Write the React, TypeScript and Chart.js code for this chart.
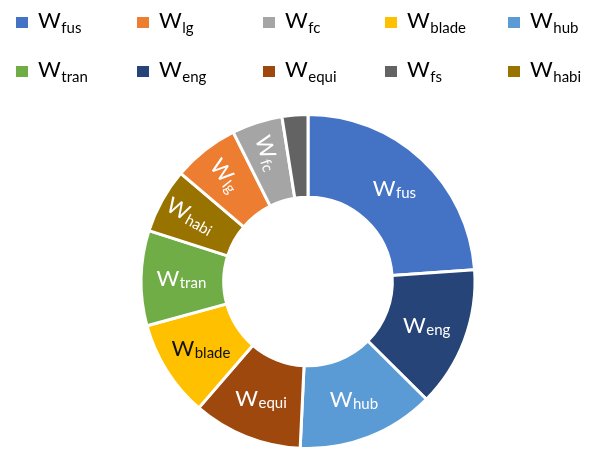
import React, { useEffect, useRef } from "react";
import { Chart, registerables } from "chart.js";

Chart.register(...registerables);

// Slices in clockwise order starting at 12 o'clock (subscripts of "W")
const categories = ["fus", "eng", "hub", "equi", "blade", "tran", "habi", "lg", "fc", "fs"];
const shares = [23.9, 13.6, 13.3, 10.6, 9.4, 9.2, 6.3, 6.4, 4.9, 2.5];
const sliceColors = ["#4472C4", "#264478", "#5B9BD5", "#9E480E", "#FFC000", "#70AD47", "#997300", "#ED7D31", "#A5A5A5", "#636363"];
const darkLabelSlices = ["blade"];
const rotatedLabelSlices = ["habi", "lg", "fc"];
const unlabeledSlices = ["fs"];

// Legend order (two rows of five)
const legendRow1 = ["fus", "lg", "fc", "blade", "hub"];
const legendRow2 = ["tran", "eng", "equi", "fs", "habi"];

const FONT = "Lato, 'Open Sans', sans-serif";

function drawSubText(
  ctx: CanvasRenderingContext2D,
  x: number,
  y: number,
  sub: string,
  mainSize: number,
  subSize: number,
  subDrop: number,
  color: string,
  center: boolean
) {
  ctx.font = `${mainSize}px ${FONT}`;
  const wW = ctx.measureText("W").width;
  ctx.font = `${subSize}px ${FONT}`;
  const sW = ctx.measureText(sub).width;
  const gap = 0.5;
  const total = wW + gap + sW;
  const x0 = center ? x - total / 2 : x;
  ctx.fillStyle = color;
  ctx.textAlign = "left";
  ctx.textBaseline = "alphabetic";
  ctx.font = `${mainSize}px ${FONT}`;
  ctx.fillText("W", x0, y);
  ctx.font = `${subSize}px ${FONT}`;
  ctx.fillText(sub, x0 + wW + gap, y + subDrop);
}

const sliceLabelPlugin = {
  id: "sliceLabels",
  afterDatasetsDraw(chart: any) {
    const ctx: CanvasRenderingContext2D = chart.ctx;
    const meta = chart.getDatasetMeta(0);
    meta.data.forEach((arc: any, i: number) => {
      const cat = categories[i];
      if (unlabeledSlices.includes(cat)) return;
      const { x, y, startAngle, endAngle, innerRadius, outerRadius } = arc.getProps(
        ["x", "y", "startAngle", "endAngle", "innerRadius", "outerRadius"],
        true
      );
      const mid = (startAngle + endAngle) / 2;
      const rotated = rotatedLabelSlices.includes(cat);
      const r = (innerRadius + outerRadius) / 2 + (rotated ? 9 : 1);
      const px = x + Math.cos(mid) * r;
      const py = y + Math.sin(mid) * r;
      const color = darkLabelSlices.includes(cat) ? "#111111" : "#FFFFFF";
      ctx.save();
      ctx.translate(px, py);
      if (rotated) ctx.rotate(mid - Math.PI);
      drawSubText(ctx, 0, 7, cat, 22, 15, 2, color, true);
      ctx.restore();
    });
  },
};

const legendColumns = [16, 137, 263, 385, 508];
const legendBaselines = [28, 77];

const legendPlugin = {
  id: "subLegend",
  afterDraw(chart: any) {
    const ctx: CanvasRenderingContext2D = chart.ctx;
    [legendRow1, legendRow2].forEach((row, ri) => {
      const base = legendBaselines[ri];
      row.forEach((cat, ci) => {
        const mx = legendColumns[ci];
        const color = sliceColors[categories.indexOf(cat)];
        ctx.save();
        ctx.fillStyle = color;
        ctx.fillRect(mx, base - 11, 12, 11);
        drawSubText(ctx, mx + 22, base, cat, 22, 15, 5, "#000000", false);
        ctx.restore();
      });
    });
  },
};

export default function App() {
  const canvasRef = useRef<HTMLCanvasElement | null>(null);

  useEffect(() => {
    if (!canvasRef.current) return;
    const chart = new Chart(canvasRef.current, {
      type: "doughnut",
      data: {
        labels: categories.map((c) => "W" + c),
        datasets: [
          {
            data: shares,
            backgroundColor: sliceColors,
            borderColor: "#FFFFFF",
            borderWidth: 3,
          },
        ],
      },
      options: {
        animation: false,
        responsive: false,
        maintainAspectRatio: false,
        cutout: "50.5%",
        layout: { padding: { left: 138, top: 113, right: 118, bottom: -3 } },
        plugins: {
          legend: { display: false },
          tooltip: { enabled: false },
        },
      },
      plugins: [sliceLabelPlugin, legendPlugin],
    });
    return () => chart.destroy();
  }, []);

  return (
    <div style={{ position: "absolute", left: 0, top: 0, width: 596, height: 450, background: "#FFFFFF" }}>
      <canvas ref={canvasRef} width={596} height={450} style={{ display: "block", width: 596, height: 450 }} />
    </div>
  );
}
